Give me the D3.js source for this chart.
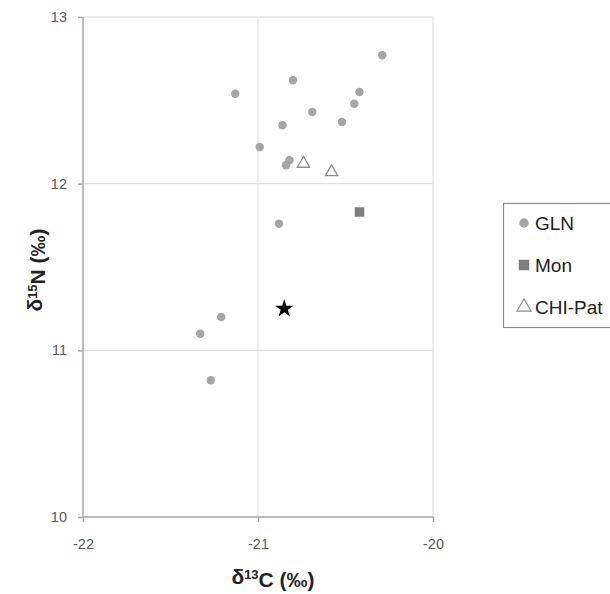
<!DOCTYPE html>
<html>
<head>
<meta charset="utf-8">
<script src="https://cdn.jsdelivr.net/npm/d3@7"></script>
<style>
  html, body { margin: 0; padding: 0; background: #fff; }
  svg { display: block; }
  text { font-family: "Liberation Sans", Arial, sans-serif; }
</style>
</head>
<body>
<svg id="chart" width="610" height="594"></svg>
<script>
// ---- Data ----
const glnC = [-20.29, -20.80, -21.13, -20.42, -20.45, -20.69, -20.52, -20.86, -20.99, -20.82, -20.84, -20.88, -21.21, -21.33, -21.27];
const glnN = [12.77, 12.62, 12.54, 12.55, 12.48, 12.43, 12.37, 12.35, 12.22, 12.14, 12.11, 11.76, 11.20, 11.10, 10.82];
const monC = [-20.42];
const monN = [11.83];
const chiC = [-20.74, -20.58];
const chiN = [12.12, 12.07];
const starC = [-20.85];
const starN = [11.25];
const xTicks = [-22, -21, -20];
const yTicks = [10, 11, 12, 13];
const legendLabels = ["GLN", "Mon", "CHI-Pat"];

// ---- Layout ----
const svg = d3.select("#chart");
const x = d3.scaleLinear().domain([-22, -20]).range([83, 433]);
const y = d3.scaleLinear().domain([10, 13]).range([517, 17]);

// Gridlines
const grid = svg.append("g");
grid.selectAll("line.h").data(yTicks.filter(d => d > 10)).enter().append("line")
  .attr("x1", x(-22)).attr("x2", x(-20))
  .attr("y1", d => y(d)).attr("y2", d => y(d))
  .attr("stroke", "#d9d9d9").attr("stroke-width", 1);
grid.selectAll("line.v").data(xTicks.filter(d => d > -22)).enter().append("line")
  .attr("x1", d => x(d)).attr("x2", d => x(d))
  .attr("y1", y(13)).attr("y2", y(10))
  .attr("stroke", "#d9d9d9").attr("stroke-width", 1);

// Axes
const fmt = d => String(d);
const xAxis = d3.axisBottom(x).tickValues(xTicks).tickSize(5).tickPadding(17).tickFormat(fmt);
const yAxis = d3.axisLeft(y).tickValues(yTicks).tickSize(5).tickPadding(11).tickFormat(fmt);

const gx = svg.append("g").attr("transform", `translate(0,${y(10)})`).call(xAxis);
const gy = svg.append("g").attr("transform", `translate(${x(-22)},0)`).call(yAxis);
[gx, gy].forEach(g => {
  g.select(".domain").attr("stroke", "#a6a6a6").attr("stroke-width", 1.5);
  g.selectAll(".tick line").attr("stroke", "#a6a6a6").attr("stroke-width", 1.5);
  g.selectAll(".tick text").attr("fill", "#595959").style("font-size", "14.5px")
    .style("font-family", "'Liberation Sans', Arial, sans-serif");
});
gx.select(".domain").attr("d", `M${x(-22)},0H${x(-20)}`);
gy.select(".domain").attr("d", `M0,${y(13)}V${y(10)}`);

// Axis titles
const xt = svg.append("text").attr("x", 273).attr("y", 584)
  .attr("text-anchor", "middle").attr("font-weight", "bold").style("font-size", "21px").attr("fill", "#222");
xt.append("tspan").text("δ");
xt.append("tspan").text("13").attr("dy", "-0.42em").style("font-size", "13px");
xt.append("tspan").text("C (‰)").attr("dy", "0.42em");

const yt = svg.append("text").attr("transform", "translate(42,270) rotate(-90)")
  .attr("text-anchor", "middle").attr("font-weight", "bold").style("font-size", "21px").attr("fill", "#222");
yt.append("tspan").text("δ");
yt.append("tspan").text("15").attr("dy", "-0.42em").style("font-size", "13px");
yt.append("tspan").text("N (‰)").attr("dy", "0.42em");

// Marks
const pts = svg.append("g");
const circleSym = d3.symbol().type(d3.symbolCircle).size(56);
const squareSym = d3.symbol().type(d3.symbolSquare).size(90);
const triSym = d3.symbol().type(d3.symbolTriangle).size(66);
const starSym = d3.symbol().type(d3.symbolStar).size(105);

pts.selectAll("path.gln").data(glnC.map((c, i) => [c, glnN[i]])).enter().append("path")
  .attr("d", circleSym).attr("transform", d => `translate(${x(d[0])},${y(d[1])})`)
  .attr("fill", "#a5a5a5");
pts.selectAll("path.mon").data(monC.map((c, i) => [c, monN[i]])).enter().append("path")
  .attr("d", squareSym).attr("transform", d => `translate(${x(d[0])},${y(d[1])})`)
  .attr("fill", "#7f7f7f");
pts.selectAll("path.chi").data(chiC.map((c, i) => [c, chiN[i]])).enter().append("path")
  .attr("d", triSym).attr("transform", d => `translate(${x(d[0])},${y(d[1])})`)
  .attr("fill", "#fff").attr("stroke", "#8c8c8c").attr("stroke-width", 1.3);
pts.selectAll("path.star").data(starC.map((c, i) => [c, starN[i]])).enter().append("path")
  .attr("d", starSym).attr("transform", d => `translate(${x(d[0])},${y(d[1])})`)
  .attr("fill", "#000");

// Legend
const lg = svg.append("g");
lg.append("rect").attr("x", 503.5).attr("y", 203.5).attr("width", 120).attr("height", 124)
  .attr("fill", "#fff").attr("stroke", "#8c8c8c").attr("stroke-width", 1.2);
const legSyms = [
  { sym: d3.symbol().type(d3.symbolCircle).size(70), fill: "#a5a5a5", stroke: "none" },
  { sym: d3.symbol().type(d3.symbolSquare).size(110), fill: "#7f7f7f", stroke: "none" },
  { sym: d3.symbol().type(d3.symbolTriangle).size(85), fill: "#fff", stroke: "#8c8c8c" }
];
const legY = [223, 265, 307];
legendLabels.forEach((lab, i) => {
  lg.append("path").attr("d", legSyms[i].sym).attr("transform", `translate(524,${legY[i]})`)
    .attr("fill", legSyms[i].fill).attr("stroke", legSyms[i].stroke).attr("stroke-width", 1.2);
  lg.append("text").attr("x", 535).attr("y", legY[i] + 6.5).text(lab)
    .style("font-size", "19px").attr("fill", "#222");
});
</script>
</body>
</html>
